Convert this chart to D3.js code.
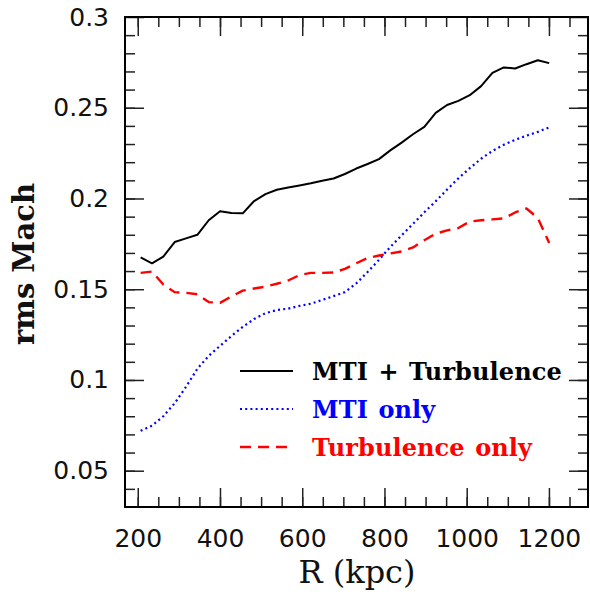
<!DOCTYPE html>
<html>
<head>
<meta charset="utf-8">
<script src="https://cdn.jsdelivr.net/npm/d3@7"></script>
<style>
  html, body { margin: 0; padding: 0; background: #fff; }
  svg { display: block; }
  .tick text { font-family: "DejaVu Sans", sans-serif; font-size: 25px; fill: #111; }
</style>
</head>
<body>
<svg id="chart" width="590" height="592"></svg>
<script>
// radius grid (kpc), shared by the three runs
const radius = [207, 234.6, 262.2, 289.8, 317.4, 345, 372.6, 400.2, 427.8, 455.4, 483, 510.6,
  538.2, 565.8, 593.4, 621, 648.6, 676.2, 703.8, 731.4, 759, 786.6, 814.2, 841.8, 869.4, 897,
  924.6, 952.2, 979.8, 1007.4, 1035, 1062.6, 1090.2, 1117.8, 1145.4, 1173, 1200.6];

// rms Mach number
const machBoth = [0.1676, 0.1643, 0.168, 0.176, 0.178, 0.180, 0.188, 0.193, 0.192, 0.1918, 0.1986, 0.2024,
  0.2048, 0.206, 0.2072, 0.2084, 0.2098, 0.211, 0.2135, 0.2165, 0.219, 0.2217, 0.2265, 0.2308, 0.2354, 0.2395,
  0.2472, 0.2515, 0.2538, 0.2569, 0.2619, 0.2692, 0.2722, 0.2716, 0.274, 0.2762, 0.2746];

const machMti = [0.072, 0.0748, 0.080, 0.0872, 0.0962, 0.1062, 0.1133, 0.1188, 0.1242, 0.1292, 0.1336, 0.1368,
  0.1385, 0.1393, 0.1408, 0.142, 0.1441, 0.1462, 0.1484, 0.1532, 0.1595, 0.1662, 0.1733, 0.1797, 0.186, 0.1924,
  0.1985, 0.2049, 0.2111, 0.2167, 0.2219, 0.2262, 0.2296, 0.2323, 0.2346, 0.2367, 0.2392];

const machTurb = [0.159, 0.1597, 0.1526, 0.1484, 0.148, 0.1472, 0.1429, 0.1425, 0.146, 0.1492, 0.1504, 0.1514,
  0.153, 0.1548, 0.1578, 0.159, 0.159, 0.1592, 0.1612, 0.1643, 0.1672, 0.1686, 0.1697, 0.1708, 0.173, 0.177,
  0.1806, 0.1824, 0.1837, 0.1873, 0.188, 0.1885, 0.189, 0.1923, 0.1945, 0.1892, 0.1755];

// axis ticks
const xMajor = [200, 400, 600, 800, 1000, 1200];
const xMajorLabels = ["200", "400", "600", "800", "1000", "1200"];
const xMinor = d3.range(200, 1251, 50);
const yMajor = [0.05, 0.1, 0.15, 0.2, 0.25, 0.3];
const yMajorLabels = ["0.05", "0.1", "0.15", "0.2", "0.25", "0.3"];
const yMinor = d3.range(4, 30).map(d => d / 100);

const series = [
  { label: "MTI + Turbulence", values: machBoth, color: "#000", dash: null, width: 2 },
  { label: "MTI only", values: machMti, color: "#0000ff", dash: "2,3.2", width: 2.2 },
  { label: "Turbulence only", values: machTurb, color: "#ff0000", dash: "11,7", width: 2.4 }
];

const svg = d3.select("#chart");
const plotL = 125, plotR = 588, plotT = 17, plotB = 507;

const x = d3.scaleLinear().domain([169, 1295]).range([plotL, plotR]);
const y = d3.scaleLinear().domain([0.03, 0.3]).range([plotB, plotT]);

// ticks on all four sides, pointing inward
function tickAxis(axisFn, scale, values, size, labels, transform) {
  const ax = axisFn(scale).tickValues(values).tickSize(size).tickPadding(16);
  ax.tickFormat(labels ? (d, i) => labels[i] : () => "");
  const g = svg.append("g").attr("transform", transform).call(ax);
  g.select(".domain").remove();
  g.selectAll(".tick line").attr("stroke", "#222").attr("stroke-width", 1.5);
  return g;
}

tickAxis(d3.axisBottom, x, xMinor, -10, null, `translate(0,${plotB})`);
tickAxis(d3.axisTop, x, xMinor, -10, null, `translate(0,${plotT})`);
tickAxis(d3.axisLeft, y, yMinor, -10, null, `translate(${plotL},0)`);
tickAxis(d3.axisRight, y, yMinor, -10, null, `translate(${plotR},0)`);

const xb = tickAxis(d3.axisBottom, x, xMajor, -19, xMajorLabels, `translate(0,${plotB})`);
xb.selectAll(".tick text").attr("y", 16).attr("dy", "0.95em");
tickAxis(d3.axisTop, x, xMajor, -19, null, `translate(0,${plotT})`);
const yl = tickAxis(d3.axisLeft, y, yMajor, -19, yMajorLabels, `translate(${plotL},0)`);
yl.selectAll(".tick text").attr("x", -16);
tickAxis(d3.axisRight, y, yMajor, -19, null, `translate(${plotR},0)`);

// curves
const line = d3.line().x(d => x(d[0])).y(d => y(d[1]));

series.forEach(s => {
  svg.append("path")
    .datum(radius.map((r, i) => [r, s.values[i]]))
    .attr("d", line)
    .attr("fill", "none")
    .attr("stroke", s.color)
    .attr("stroke-width", s.width)
    .attr("stroke-dasharray", s.dash)
    .attr("stroke-linejoin", "round");
});

// frame
svg.append("rect")
  .attr("x", plotL).attr("y", plotT)
  .attr("width", plotR - plotL).attr("height", plotB - plotT)
  .attr("fill", "none").attr("stroke", "#000").attr("stroke-width", 2);

// legend
const legend = svg.append("g").attr("transform", "translate(240,371)");
series.forEach((s, i) => {
  const row = legend.append("g").attr("transform", `translate(0,${i * 38})`);
  row.append("line")
    .attr("x1", 0).attr("x2", 53)
    .attr("stroke", s.color)
    .attr("stroke-width", s.width)
    .attr("stroke-dasharray", s.dash);
  row.append("text")
    .attr("x", 72).attr("y", 9)
    .attr("fill", s.color)
    .attr("font-family", "DejaVu Serif, serif")
    .attr("font-weight", "bold")
    .attr("font-size", 24)
    .attr("word-spacing", 2)
    .attr("letter-spacing", 0.1)
    .text(s.label);
});

// axis titles
svg.append("text")
  .attr("x", 357).attr("y", 583)
  .attr("text-anchor", "middle")
  .attr("font-family", "DejaVu Serif, serif")
  .attr("font-size", 32)
  .attr("fill", "#111")
  .text("R (kpc)");

svg.append("text")
  .attr("transform", "translate(34,264) rotate(-90)")
  .attr("text-anchor", "middle")
  .attr("font-family", "DejaVu Serif, serif")
  .attr("font-weight", "bold")
  .attr("font-size", 29)
  .attr("fill", "#111")
  .text("rms Mach");
</script>
</body>
</html>
